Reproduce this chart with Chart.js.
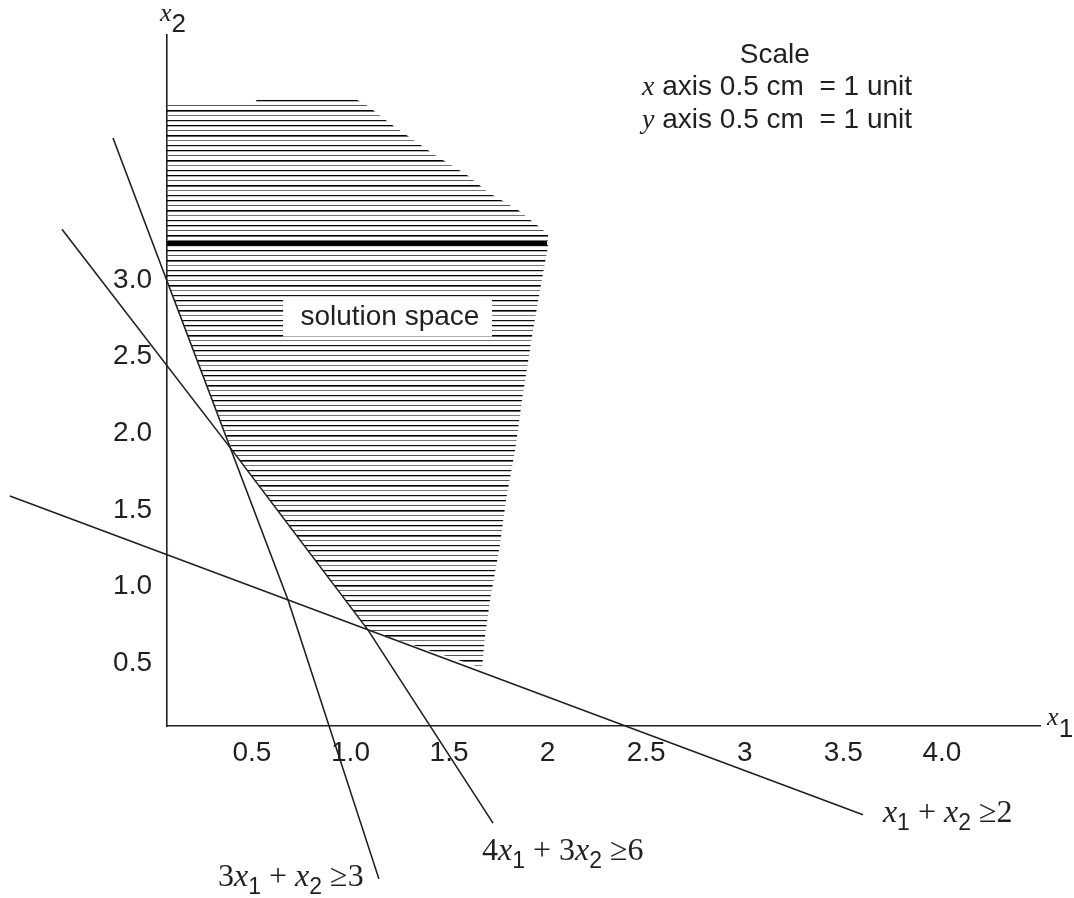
<!DOCTYPE html>
<html>
<head>
<meta charset="utf-8">
<script src="https://cdn.jsdelivr.net/npm/chart.js@4"></script>
<style>
  html, body { margin: 0; padding: 0; background: #fff; }
  #wrap { width: 1074px; height: 898px; }
</style>
</head>
<body>
<div id="wrap"><canvas id="lp" width="1074" height="898"></canvas></div>
<script>
// Axis ticks
const xTicks = [0.5, 1.0, 1.5, 2, 2.5, 3, 3.5, 4.0];
const xTickLabels = ['0.5', '1.0', '1.5', '2', '2.5', '3', '3.5', '4.0'];
const yTicks = [0.5, 1.0, 1.5, 2.0, 2.5, 3.0];
const yTickLabels = ['0.5', '1.0', '1.5', '2.0', '2.5', '3.0'];

// Constraint lines, as drawn in the figure (x1, x2)
const lineAX = [-0.205, 0.069, 0.683, 1.144];   // 3x1 + x2 >= 3
const lineAY = [3.927, 2.994, 0.911, -0.909];
const lineBX = [-0.464, 0.399, 1.089, 1.723];   // 4x1 + 3x2 >= 6
const lineBY = [3.332, 1.890, 0.715, -0.545];
const lineCX = [-0.728, 3.600];                 // x1 + x2 >= 2
const lineCY = [1.590, -0.491];

// Outline of the hatched solution space
const regionX = [0.069, 0.515, 0.531, 1.007, 1.074, 1.211, 1.428, 1.591, 1.697, 1.850, 1.926, 2.002,
                 2.002, 1.977, 1.926, 1.870, 1.835, 1.789, 1.758, 1.708, 1.683, 1.667, 1.089, 0.399, 0.069];
const regionY = [4.155, 4.155, 4.194, 4.194, 4.149, 4.012, 3.816, 3.686, 3.574, 3.457, 3.379, 3.301,
                 3.222, 3.046, 2.674, 2.217, 1.890, 1.564, 1.270, 0.911, 0.683, 0.467, 0.715, 1.890, 2.994];

// Heavy rule inside the hatching
const ruleX = [0.069, 1.997];
const ruleY = [3.242, 3.242];

const ink = '#231f20';
const sans = '"Liberation Sans", Arial, sans-serif';
const serif = '"Liberation Serif", "Times New Roman", serif';

function pts(xs, ys) {
    return xs.map((v, i) => ({ x: v, y: ys[i] }));
}

// Horizontal hatch pattern, slightly irregular like the original
function makeHatch() {
    const c = document.createElement('canvas');
    c.width = 4;
    c.height = 25;
    const g = c.getContext('2d');
    const rows = [[0, '#000', 1.3], [5, '#555', 1], [10, '#000', 1.6], [15, '#777', 1], [20, '#111', 1.2]];
    rows.forEach(r => {
        g.fillStyle = r[1];
        g.fillRect(0, r[0], 4, r[2]);
    });
    return g.createPattern(c, 'repeat');
}

function drawParts(ctx, parts, px, py) {
    let cx = px;
    parts.forEach(p => {
        ctx.font = p[1];
        ctx.fillText(p[0], cx, py + (p[2] || 0));
        cx += ctx.measureText(p[0]).width;
    });
}

const annotate = {
    id: 'annotate',
    afterDatasetsDraw(chart) {
        const { ctx } = chart;
        const sx = chart.scales.x, sy = chart.scales.y;
        const X = v => sx.getPixelForValue(v), Y = v => sy.getPixelForValue(v);
        ctx.save();
        ctx.fillStyle = ink;
        ctx.textBaseline = 'alphabetic';

        // solution space label with white box
        ctx.fillStyle = '#fff';
        ctx.fillRect(X(0.658), Y(2.873), X(1.718) - X(0.658), Y(2.632) - Y(2.873));
        ctx.fillStyle = ink;
        ctx.font = '28px ' + sans;
        ctx.textAlign = 'center';
        ctx.textBaseline = 'middle';
        ctx.fillText('solution space', X(1.200), Y(2.755));
        ctx.textBaseline = 'alphabetic';

        // scale note
        ctx.fillText('Scale', X(3.153), Y(4.416));
        ctx.textAlign = 'left';
        const it = 'italic 28px ' + serif, rg = '28px ' + sans;
        drawParts(ctx, [['x', it], [' axis 0.5 cm  = 1 unit', rg]], X(2.479), Y(4.208));
        drawParts(ctx, [['y', it], [' axis 0.5 cm  = 1 unit', rg]], X(2.479), Y(3.992));

        // constraint labels
        const ei = 'italic 32px ' + serif, er = '32px ' + serif, es = '23px ' + sans;
        drawParts(ctx, [['x', ei], ['1', es, 8], [' + ', er], ['x', ei], ['2', es, 8], [' \u2265', er], ['2', er]],
            X(3.701), Y(-0.538));
        drawParts(ctx, [['4', er], ['x', ei], ['1', es, 8], [' + 3', er], ['x', ei], ['2', es, 8], [' \u2265', er], ['6', er]],
            X(1.667), Y(-0.786));
        drawParts(ctx, [['3', er], ['x', ei], ['1', es, 8], [' + ', er], ['x', ei], ['2', es, 8], [' \u2265', er], ['3', er]],
            X(0.328), Y(-0.956));

        // axis names
        const ai = 'italic 26px ' + serif, as = '26px ' + sans;
        drawParts(ctx, [['x', ai], ['2', as, 11]], X(0.033), Y(4.691));
        drawParts(ctx, [['x', ai], ['1', as, 12]], X(4.534), Y(0.095));
        ctx.restore();
    }
};

const lineStyle = { showLine: true, borderColor: ink, borderWidth: 1.6, pointRadius: 0, fill: false, clip: false };

new Chart(document.getElementById('lp'), {
    type: 'scatter',
    data: {
        datasets: [
            { label: '3x1 + x2 >= 3', data: pts(lineAX, lineAY), ...lineStyle },
            { label: '4x1 + 3x2 >= 6', data: pts(lineBX, lineBY), ...lineStyle },
            { label: 'x1 + x2 >= 2', data: pts(lineCX, lineCY), ...lineStyle },
            { label: 'rule', data: pts(ruleX, ruleY), ...lineStyle, borderColor: '#000', borderWidth: 4 },
            {
                label: 'solution space',
                data: pts(regionX, regionY),
                showLine: true,
                borderWidth: 0,
                borderColor: 'rgba(0,0,0,0)',
                pointRadius: 0,
                fill: 'shape',
                backgroundColor: makeHatch()
            }
        ]
    },
    options: {
        responsive: false,
        animation: false,
        events: [],
        layout: { padding: { top: 35, right: 34, left: 0, bottom: 0 } },
        plugins: {
            legend: { display: false },
            tooltip: { enabled: false }
        },
        scales: {
            x: {
                type: 'linear',
                min: 0.069,
                max: 4.498,
                grid: { display: false, drawTicks: false },
                border: { display: true, color: ink, width: 1.6 },
                ticks: {
                    color: ink,
                    font: { family: sans, size: 28 },
                    padding: 10,
                    maxRotation: 0,
                    autoSkip: false,
                    callback: v => xTickLabels[xTicks.indexOf(v)]
                },
                afterBuildTicks: s => { s.ticks = xTicks.map(v => ({ value: v })); },
                afterFit: s => { s.height = 172; }
            },
            y: {
                type: 'linear',
                min: 0.089,
                max: 4.60,
                grid: { display: false, drawTicks: false },
                border: { display: true, color: ink, width: 1.6 },
                ticks: {
                    color: ink,
                    font: { family: sans, size: 28 },
                    padding: 15,
                    autoSkip: false,
                    callback: v => yTickLabels[yTicks.indexOf(v)]
                },
                afterBuildTicks: s => { s.ticks = yTicks.map(v => ({ value: v })); },
                afterFit: s => { s.width = 167; }
            }
        }
    },
    plugins: [annotate]
});
</script>
</body>
</html>
